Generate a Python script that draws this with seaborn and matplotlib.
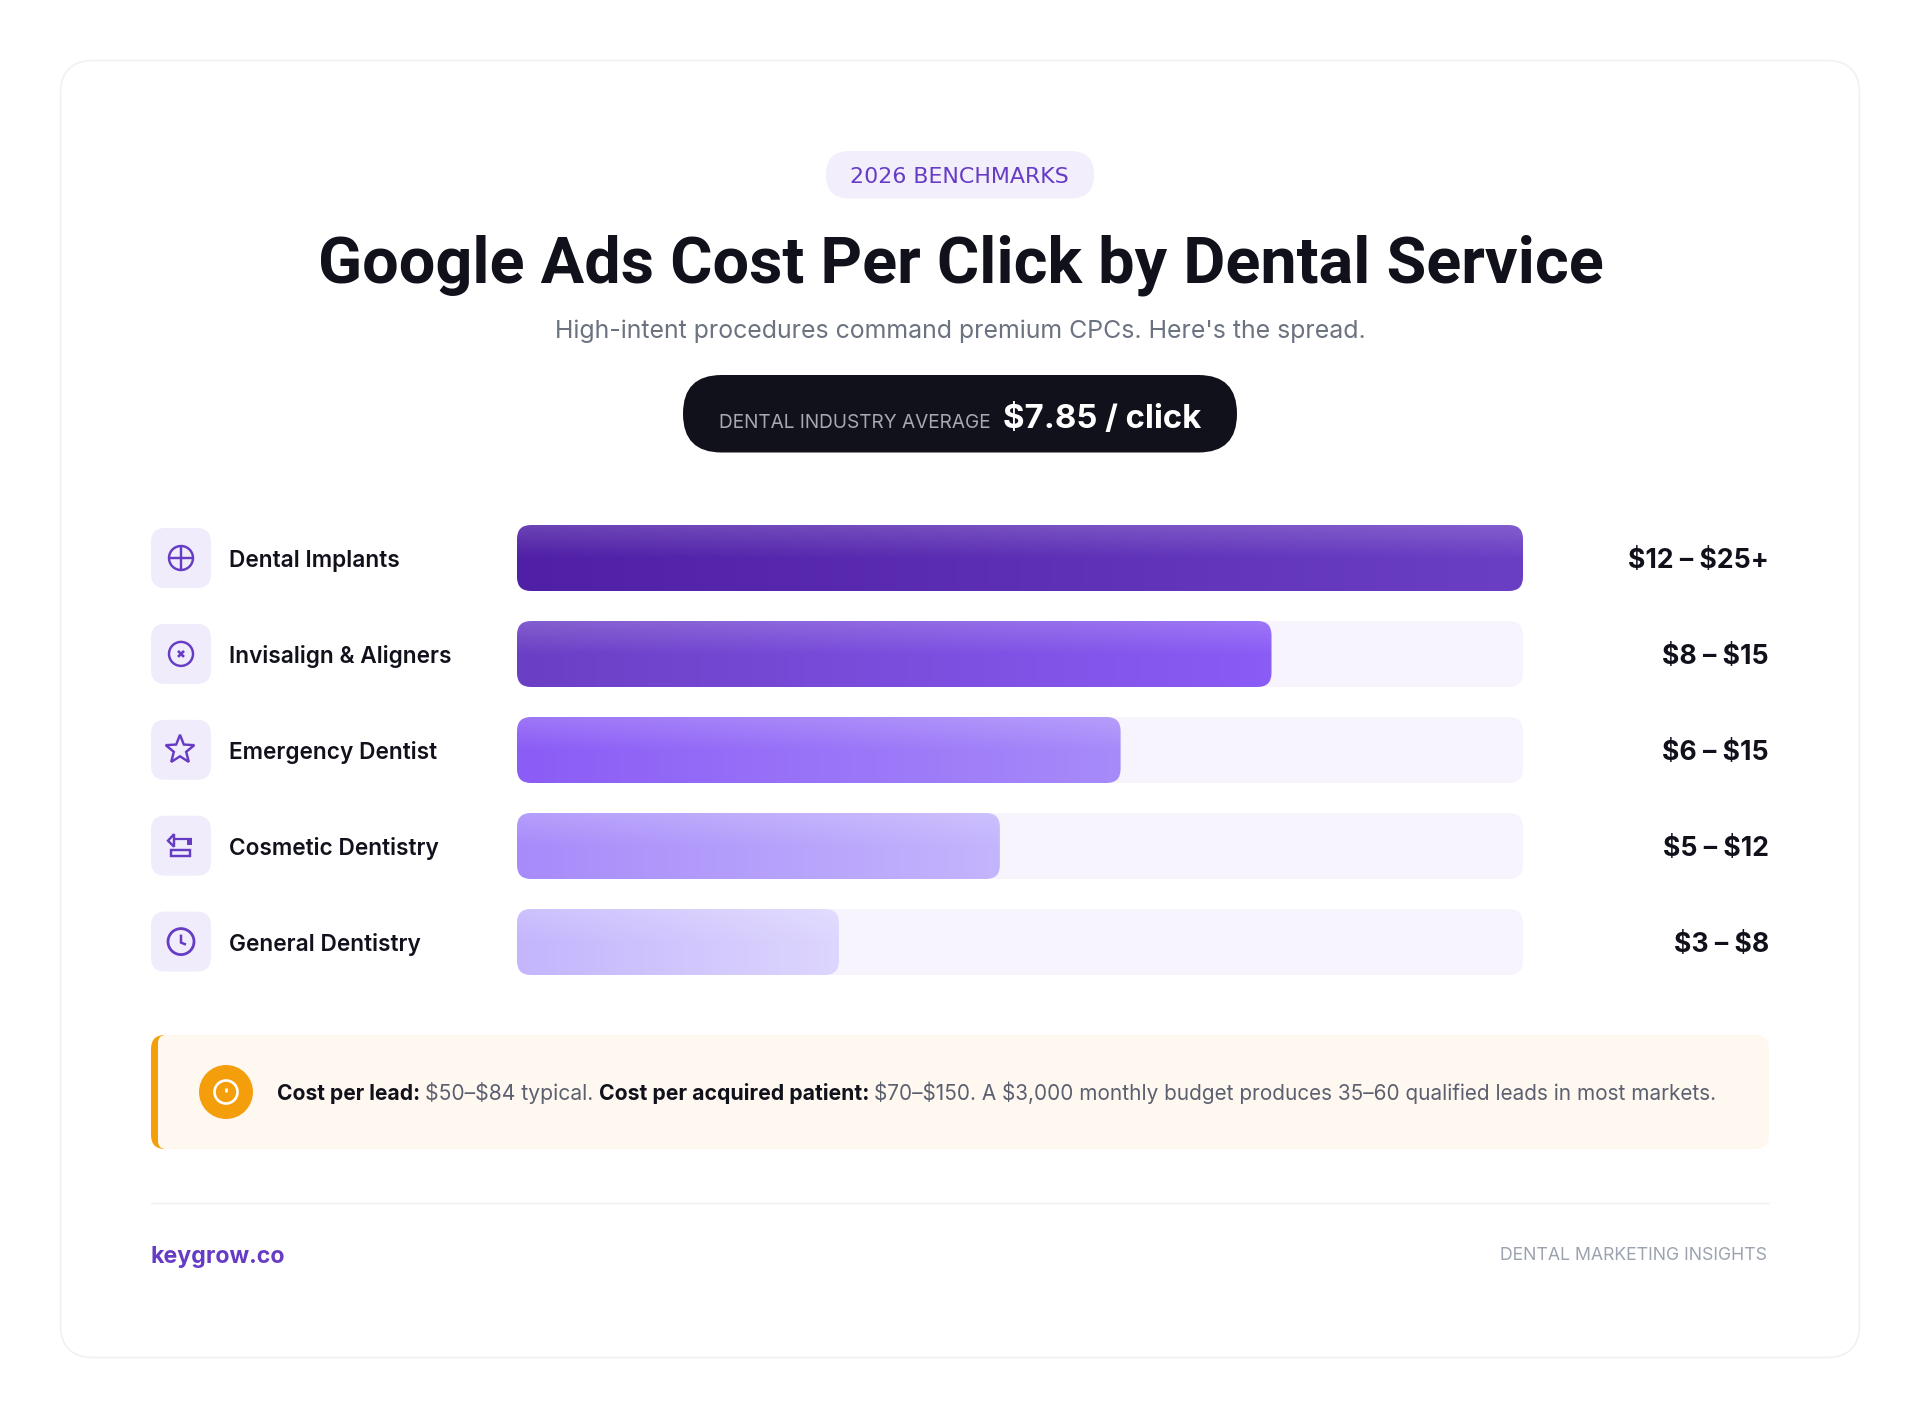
import numpy as np
import pandas as pd
import matplotlib
matplotlib.use("Agg")
import matplotlib.pyplot as plt
from matplotlib.patches import FancyBboxPatch, Circle, Polygon, Rectangle
import seaborn as sns

# ---- data ----
services = ["Dental Implants", "Invisalign & Aligners", "Emergency Dentist", "Cosmetic Dentistry", "General Dentistry"]
fill_pct = [100, 75, 60, 48, 32]
track_pct = [100, 100, 100, 100, 100]
ranges = ["$12 – $25+", "$8 – $15", "$6 – $15", "$5 – $12", "$3 – $8"]
grad_left = ["#4F1FA5", "#6B3FC4", "#8B5CF6", "#A78BFA", "#C4B5FD"]
grad_right = ["#6B3FC4", "#8B5CF6", "#A78BFA", "#C4B5FD", "#DDD6FE"]

W, H = 1920, 1419
sns.set_theme(style="white")
plt.rcParams["font.family"] = ["Inter", "DejaVu Sans"]
fig = plt.figure(figsize=(W / 100, H / 100), dpi=100, facecolor="white")
bg = fig.add_axes([0, 0, 1, 1], zorder=0)
bg.set_xlim(0, W); bg.set_ylim(H, 0); bg.axis("off")
rend = fig.canvas.get_renderer()

INK = "#10111B"; PURPLE = "#663CC4"; TRACK = "#F7F4FE"

def rbox(a, x0, y0, x1, y1, r, fc, ec="none", lw=0, z=1):
    p = FancyBboxPatch((x0 + r, y0 + r), x1 - x0 - 2 * r, y1 - y0 - 2 * r,
                       boxstyle=f"round,pad={r},rounding_size={r}", fc=fc, ec=ec, lw=lw,
                       transform=bg.transData, zorder=z, clip_on=False)
    a.add_patch(p)
    return p

def T(x0, x1, base, s, color, weight="normal", fam="Inter", size=20):
    """Text placed from x0 and sized so that it ends at x1."""
    t = bg.text(x0, base, s, color=color, fontweight=weight, family=[fam, "DejaVu Sans"],
                fontsize=size, ha="left", va="baseline", zorder=5, parse_math=False)
    w = t.get_window_extent(rend).width
    t.set_fontsize(size * (x1 - x0) / w)
    return t

# card
rbox(bg, 60.5, 60.5, 1859.5, 1357.5, 33, "white", "#F1F0F4", 1.2)

# header
rbox(bg, 826, 151, 1094, 198.5, 23.5, "#F2EEFC")
T(850, 1069, 183, "2026 BENCHMARKS", PURPLE, "medium", "DejaVu Sans")
T(318, 1601, 282, "Google Ads Cost Per Click by Dental Service", INK, "bold", "Roboto")
T(555, 1367, 338, "High-intent procedures command premium CPCs. Here's the spread.", "#6B7280", "normal", "Inter")
rbox(bg, 683, 375, 1237, 452.5, 38.5, INK)
T(719, 993, 427.5, "DENTAL INDUSTRY AVERAGE", "#A8A8B0", "normal", "Inter")
T(1003, 1201.5, 428, "$7.85 / click", "white", "bold")

# bars through seaborn
df = pd.DataFrame({"service": services, "fill": fill_pct, "track": track_pct})
ax = fig.add_axes([517 / W, 1 - 990 / H, (1523 - 517) / W, 480 / H], zorder=1)
ax.patch.set_alpha(0)
sns.barplot(data=df, y="service", x="track", color=TRACK, width=66 / 96, ax=ax, saturation=1)
n_track = len(ax.patches)
sns.barplot(data=df, y="service", x="fill", color="#6B3FC4", width=66 / 96, ax=ax, saturation=1)
ax.set_xlim(0, 100); ax.set_ylim(4.5, -0.5)
ax.set_xlabel(""); ax.set_ylabel(""); ax.set_xticks([])
for s in ax.spines.values():
    s.set_visible(False)
ax.tick_params(axis="y", length=0, pad=(517 - 229) * 0.72)
for lab in ax.get_yticklabels():
    lab.set_ha("left"); lab.set_va("center_baseline")
    lab.set_family(["Inter", "DejaVu Sans"]); lab.set_fontweight("semibold")
    lab.set_fontsize(16.3); lab.set_color(INK)

to_px = ax.transData + bg.transData.inverted()
patches = list(ax.patches)
for i, p in enumerate(patches):
    (x0, y0), (x1, y1) = to_px.transform([(p.get_x(), p.get_y()), (p.get_x() + p.get_width(), p.get_y() + p.get_height())])
    y0, y1 = min(y0, y1), max(y0, y1)
    p.set_visible(False)
    if i < n_track:
        rbox(ax, x0, y0, x1, y1, 14, TRACK, z=1)
    else:
        k = i - n_track
        cl = np.array(matplotlib.colors.to_rgb(grad_left[k])); cr = np.array(matplotlib.colors.to_rgb(grad_right[k]))
        nx, ny = 300, 66
        tx = np.linspace(0, 1, nx)[None, :, None]
        ty = np.linspace(0, 1, ny)[:, None, None]
        img = cl[None, None, :] * (1 - tx) + cr[None, None, :] * tx
        img = np.repeat(img, ny, axis=0)
        hl = 0.16 * np.clip(1 - ty / 0.5, 0, 1)
        img = img * (1 - hl) + hl
        clip = rbox(ax, x0, y0, x1, y1, 14, "none", z=2)
        im = ax.imshow(img, extent=(p.get_x(), p.get_x() + p.get_width(), p.get_y() + p.get_height(), p.get_y()),
                       aspect="auto", zorder=3, interpolation="bilinear")
        im.set_clip_path(clip)
ax.set_xlim(0, 100); ax.set_ylim(4.5, -0.5)

# range labels and icon tiles
rows = [558 + 95.9 * i for i in range(5)]
for cy, r in zip(rows, ranges):
    rbox(bg, 151, cy - 30, 211, cy + 30, 14, "#F1ECFC")
    bg.text(1769, cy + 10.5, r, color=INK, fontweight="bold", fontsize=19.2, ha="right", va="baseline",
            family=["Inter", "DejaVu Sans"], zorder=5, parse_math=False)

LW = 1.75
def ring(cx, cy, r, lw=LW, c=PURPLE, z=4):
    bg.add_patch(Circle((cx, cy), r, fc="none", ec=c, lw=lw, zorder=z))
def seg(xs, ys, lw=LW, c=PURPLE, z=4):
    bg.plot(xs, ys, color=c, lw=lw, zorder=z, solid_capstyle="butt", solid_joinstyle="miter")

c1 = rows[0]
ring(181, c1, 12); seg([169, 193], [c1, c1]); seg([181, 181], [c1 - 12, c1 + 12])
c2 = rows[1]
ring(181, c2, 12)
seg([178, 184], [c2 - 3, c2 + 3], 1.9); seg([178, 184], [c2 + 3, c2 - 3], 1.9)
c3 = rows[2]
ang = np.deg2rad(-90 + 36 * np.arange(10))
rad = np.where(np.arange(10) % 2 == 0, 15, 6.5)
bg.add_patch(Polygon(np.c_[180 + rad * np.cos(ang), c3 + rad * np.sin(ang)], closed=True, fc="none", ec=PURPLE, lw=LW, zorder=4))
c4 = rows[3]
bg.add_patch(Polygon([(168, c4 - 5), (174, c4 - 11.5), (174, c4 + 1)], closed=True, fc="none", ec=PURPLE, lw=LW, zorder=4))
seg([174, 192], [c4 - 6.8, c4 - 6.8], 1.6)
bg.add_patch(Rectangle((187.3, c4 - 7.4), 5, 6.7, fc=PURPLE, ec="none", zorder=4))
bg.add_patch(Rectangle((170.5, c4 + 3.8), 19, 6, fc="none", ec=PURPLE, lw=LW, zorder=4))
c5 = rows[4]
ring(181, c5, 13, 2.0)
seg([181, 181, 186], [c5 - 7, c5 + 1, c5 + 3], 1.8)

# callout
cy0, cy1 = 1035, 1149
rbox(bg, 151, cy0, 190, cy1, 14, "#F59E0B", z=1)
rbox(bg, 158, cy0, 1740, cy1, 8, "#FFF8F0", z=2)
rbox(bg, 1700, cy0, 1769, cy1, 14, "#FFF8F0", z=2)
bg.add_patch(Circle((226, 1092), 27, fc="#F59E0B", ec="none", zorder=3))
ring(226, 1092, 11.5, 1.9, "white")
seg([226, 226], [1088, 1092], 1.9, "white")
T(277, 420, 1099.5, "Cost per lead:", INK, "bold")
T(425, 593, 1099.5, "$50–$84 typical.", "#5B6070", "normal", "Inter")
T(599, 869, 1099.5, "Cost per acquired patient:", INK, "bold")
T(874, 1714, 1099.5, "$70–$150. A $3,000 monthly budget produces 35–60 qualified leads in most markets.", "#5B6070", "normal", "Inter")

# footer
bg.plot([151, 1769], [1203, 1203], color="#F0F0F3", lw=1, zorder=1)
T(151, 286, 1263, "keygrow.co", PURPLE, "bold")
T(1500, 1770, 1260, "DENTAL MARKETING INSIGHTS", "#9CA3AF", "normal", "Inter")

fig.savefig("out.png", dpi=100, facecolor="white")
